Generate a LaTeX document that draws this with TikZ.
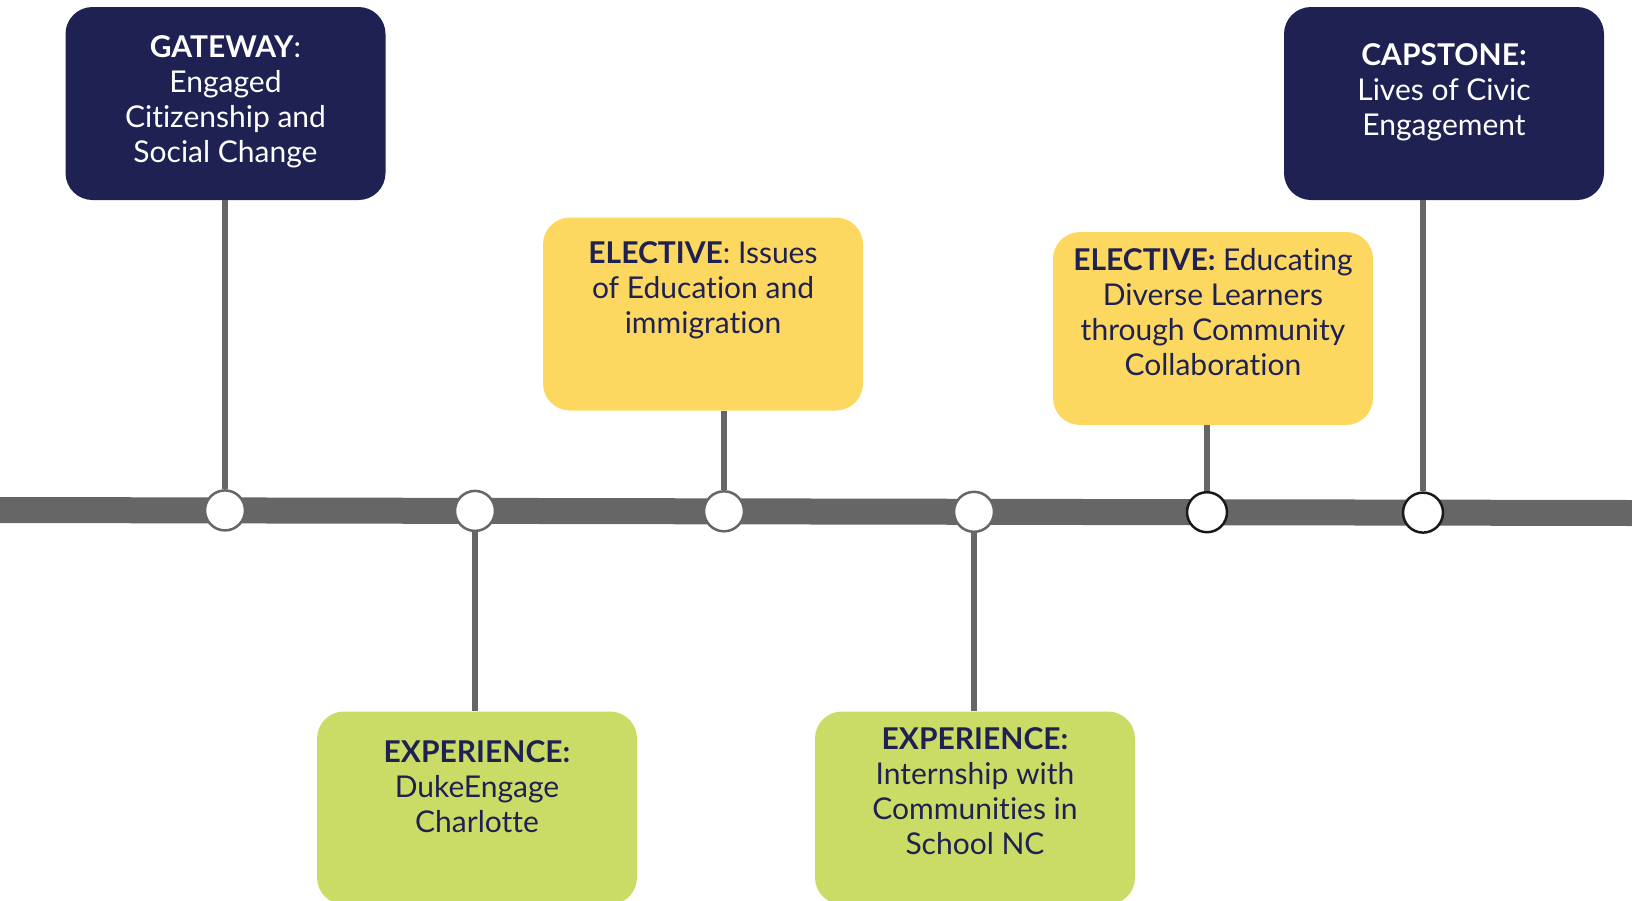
\documentclass[tikz,border=0pt]{standalone}
\usepackage{fontspec}
\setmainfont{Lato}[Ligatures={NoCommon,NoRare}]
\definecolor{navy}{HTML}{1E2151}
\definecolor{ylw}{HTML}{FCD860}
\definecolor{grn}{HTML}{CBDC66}
\definecolor{bar}{HTML}{666666}
\begin{document}
\begin{tikzpicture}[x=1pt,y=-1pt,
  box/.style={rounded corners=27pt, minimum width=320pt, minimum height=193pt, inner sep=0pt},
  navybox/.style={box, fill=navy},
  ylwbox/.style={box, fill=ylw},
  grnbox/.style={box, fill=grn},
  txt/.style={anchor=base, align=center, inner sep=0pt, font=\fontsize{30}{35}\selectfont},
  wtxt/.style={txt, text=white},
  dtxt/.style={txt, text=navy},
  dot/.style={circle, fill=white, draw=bar, line width=2.5pt, minimum size=40pt, inner sep=0pt},
  dotk/.style={dot, draw=black!90},
  conn/.style={draw=bar, line width=6.5pt}]
\useasboundingbox (0,0) rectangle (1632,900);
% timeline
\coordinate (L) at (0,510);
\coordinate (R) at (1632,513);
\draw[bar, line width=26pt] (L) -- (R);
% boxes
\node[navybox] (gw) at (225.5,103.5) {};
\node[navybox] (cap) at (1444,103.5) {};
\node[ylwbox] (el1) at (703,314) {};
\node[ylwbox] (el2) at (1213,328.5) {};
\node[grnbox] (ex1) at (477,808) {};
\node[grnbox] (ex2) at (975,808) {};
% dots
\node[dot] (c1) at (225,510.4) {};
\node[dot] (c2) at (475,510.9) {};
\node[dot] (c3) at (724,511.3) {};
\node[dot] (c4) at (974,511.8) {};
\node[dotk] (c5) at (1207,512.2) {};
\node[dotk] (c6) at (1423,512.6) {};
% connectors
\path[conn] (c1.north) -- (c1 |- gw.south);
\path[conn] (c6.north) -- (c6 |- cap.south);
\path[conn] (c3.north) -- (c3 |- el1.south);
\path[conn] (c5.north) -- (c5 |- el2.south);
\path[conn] (c2.south) -- (c2 |- ex1.north);
\path[conn] (c4.south) -- (c4 |- ex2.north);
% texts (anchor = baseline of last line)
\node[wtxt] (gwt) at (225.5,162.5) {\textbf{GATEWAY}:\\Engaged\\Citizenship and\\Social Change};
\node[wtxt] (capt) at (1444,135.5) {\textbf{CAPSTONE:}\\Lives of Civic\\Engagement};
\node[dtxt] (el1t) at (703,333.5) {\textbf{ELECTIVE}: Issues\\of Education and\\immigration};
\node[dtxt] (el2t) at (1213,375.5) {\textbf{ELECTIVE:} Educating\\Diverse Learners\\through Community\\Collaboration};
\node[dtxt] (ex1t) at (477,832) {\textbf{EXPERIENCE:}\\DukeEngage\\Charlotte};
\node[dtxt] (ex2t) at (975,854.5) {\textbf{EXPERIENCE:}\\Internship with\\Communities in\\School NC};
\end{tikzpicture}
\end{document}
